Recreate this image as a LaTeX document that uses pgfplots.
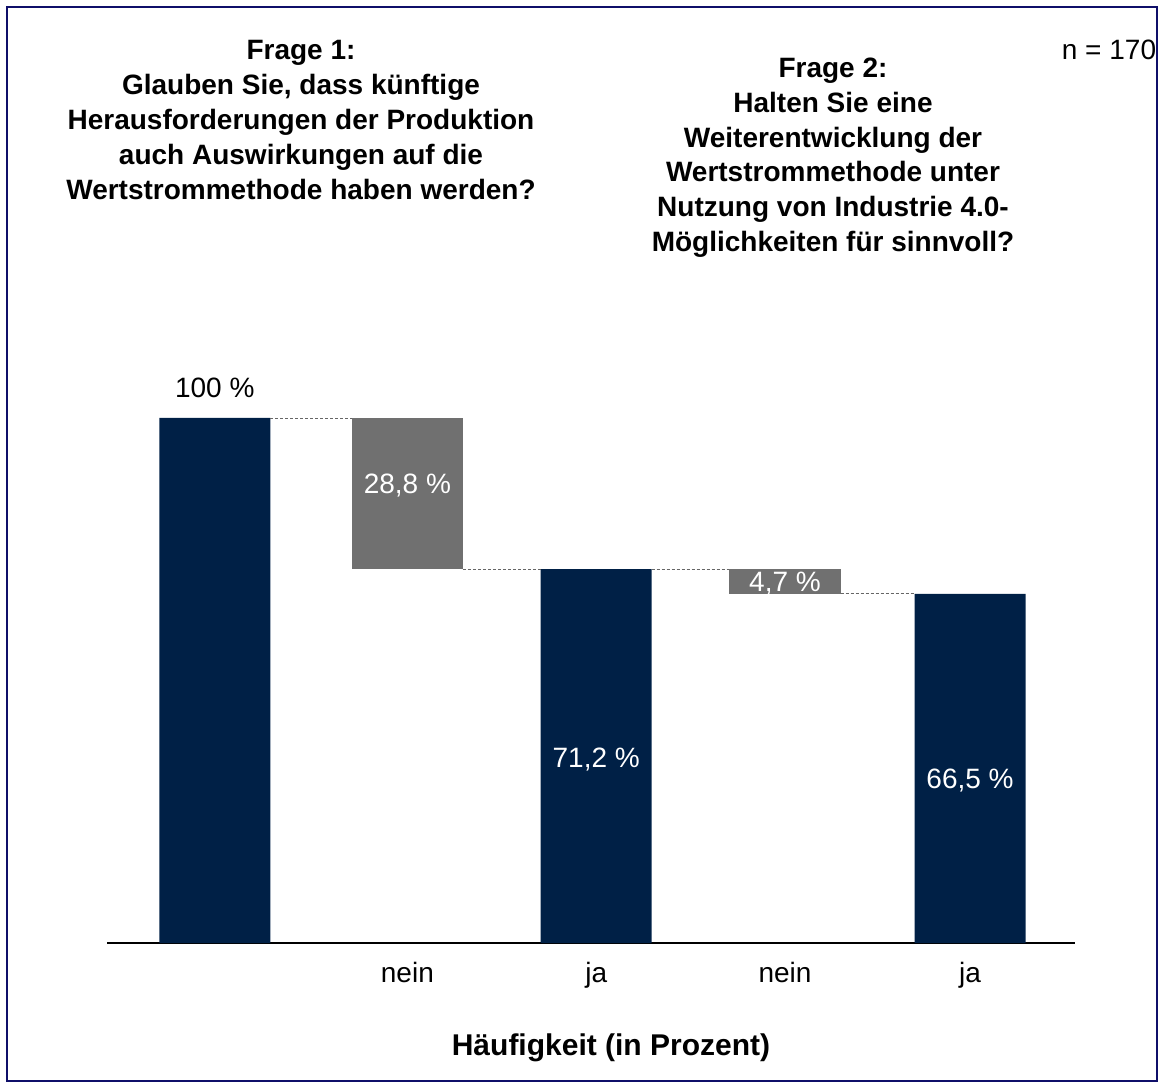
\documentclass[border=0pt]{standalone}
\usepackage{fontspec}
\setmainfont{Liberation Sans}
\usepackage{pgfplots}
\pgfplotsset{compat=1.18}
\definecolor{navy}{RGB}{0,32,70}
\definecolor{bargrey}{RGB}{112,112,112}
\definecolor{framecol}{RGB}{15,15,105}
\begin{document}
\begin{tikzpicture}
\useasboundingbox (0,0) rectangle (1164pt,1088pt);
\draw[framecol, line width=2.5pt] (7pt,7pt) rectangle (1157pt,1081pt);
\begin{axis}[
  at={(107pt,145pt)}, anchor=south west,
  scale only axis, width=968pt, height=525pt,
  xmin=-0.571, xmax=4.556, ymin=0, ymax=100,
  axis x line=bottom, axis y line=none,
  x axis line style={-, line width=1.5pt, black},
  xtick={0,1.02,2.02,3.02,4}, xticklabels={,nein,ja,nein,ja},
  major tick length=0pt, ytick=\empty,
  xticklabel style={anchor=base, yshift=-39pt, font=\fontsize{28}{34}\selectfont},
  clip=false,
]
\addplot[ybar, bar width=111pt, bar shift=0pt, fill=navy, draw=none] coordinates {(0,100) (2.02,71.2) (4,66.5)};
\addplot[fill=bargrey, draw=none] coordinates {(0.726,71.2) (1.314,71.2) (1.314,100) (0.726,100)} --cycle;
\addplot[fill=bargrey, draw=none] coordinates {(2.726,66.5) (3.314,66.5) (3.314,71.2) (2.726,71.2)} --cycle;
\addplot[black!60, line width=0.8pt, dash pattern=on 3pt off 2pt] coordinates {(0.294,100) (0.726,100)};
\addplot[black!60, line width=0.8pt, dash pattern=on 3pt off 2pt] coordinates {(1.314,71.2) (1.726,71.2)};
\addplot[black!60, line width=0.8pt, dash pattern=on 3pt off 2pt] coordinates {(2.314,71.2) (2.726,71.2)};
\addplot[black!60, line width=0.8pt, dash pattern=on 3pt off 2pt] coordinates {(3.314,66.5) (3.706,66.5)};
\node[anchor=base, yshift=20pt, font=\fontsize{28}{34}\selectfont] at (axis cs:0,100) {100 \%};
\node[anchor=base, white, font=\fontsize{28}{34}\selectfont] at (axis cs:1.02,85.7) {28,8 \%};
\node[anchor=base, white, font=\fontsize{28}{34}\selectfont] at (axis cs:2.02,33.5) {71,2 \%};
\node[anchor=base, white, font=\fontsize{28}{34}\selectfont] at (axis cs:3.02,66.9) {4,7 \%};
\node[anchor=base, white, font=\fontsize{28}{34}\selectfont] at (axis cs:4,29.5) {66,5 \%};
\end{axis}
\node[anchor=north, inner sep=0pt, align=center, font=\fontsize{28}{35}\selectfont\bfseries] at (301pt,1048pt)
  {Frage 1:\\Glauben Sie, dass künftige\\Herausforderungen der Produktion\\auch Auswirkungen auf die\\Wertstrommethode haben werden?};
\node[anchor=north, inner sep=0pt, align=center, font=\fontsize{28}{34.7}\selectfont\bfseries] at (833pt,1030pt)
  {Frage 2:\\Halten Sie eine\\Weiterentwicklung der\\Wertstrommethode unter\\Nutzung von Industrie 4.0-\\Möglichkeiten für sinnvoll?};
\node[anchor=base, font=\fontsize{28}{34}\selectfont] at (1109pt,1028pt) {n = 170};
\node[anchor=base, font=\fontsize{30}{36}\selectfont\bfseries] at (611pt,33pt) {Häufigkeit (in Prozent)};
\end{tikzpicture}
\end{document}
